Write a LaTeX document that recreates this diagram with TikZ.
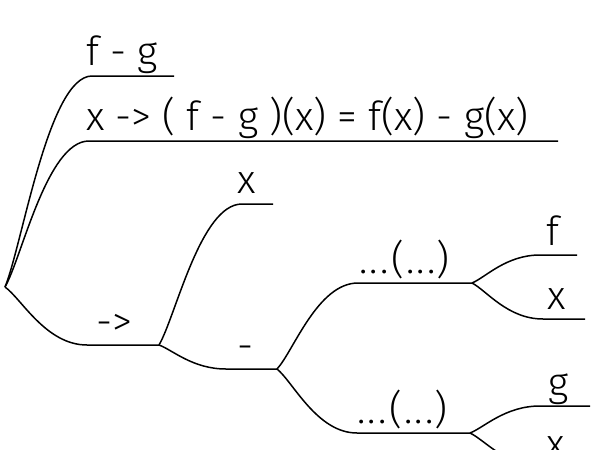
\documentclass[tikz,border=0pt]{standalone}
\usepackage{fontspec}
\setmainfont{Fira Sans Light}
\usetikzlibrary{calc}
\newcommand{\dotsapp}{.\kern2.5pt.\kern2.5pt.\kern2pt(\kern2pt.\kern2.5pt.\kern2.5pt.\kern1pt)}
\begin{document}
\begin{tikzpicture}[x=1pt,y=-1pt,
  branch/.style={to path={.. controls ($(\tikztostart)!0.2!(\tikztotarget)$) and ($(\tikztotarget)!0.5!(\tikztotarget -| \tikztostart)$) .. (\tikztotarget)}},
  edge/.style={line width=1.5pt},
  lbl/.style={anchor=base west, inner sep=0pt, font=\fontsize{40}{40}\selectfont}]
\useasboundingbox (0,0) rectangle (592,450);
\clip (0,0) rectangle (592,450);
% junction points
\coordinate (root) at (5,287);
\coordinate (fgL) at (92,76);   \coordinate (fgR) at (174,76);
\coordinate (foL) at (89,141);  \coordinate (foR) at (558,141);
\coordinate (arL) at (87,345);  \coordinate (arR) at (159,345);
\coordinate (x1L) at (242,204); \coordinate (x1R) at (273,204);
\coordinate (miL) at (226,369); \coordinate (miR) at (277,369);
\coordinate (a1L) at (358,283); \coordinate (a1R) at (472,283);
\coordinate (fL) at (540,255);  \coordinate (fR) at (577,255);
\coordinate (x2L) at (543,319); \coordinate (x2R) at (585,319);
\coordinate (a2L) at (357,433); \coordinate (a2R) at (470,433);
\coordinate (gL) at (540,406);  \coordinate (gR) at (590,406);
\coordinate (x3L) at (543,467); \coordinate (x3R) at (590,467);
% branches
\draw[edge] (root) to[branch] (fgL) -- (fgR);
\draw[edge] (root) to[branch] (foL) -- (foR);
\draw[edge] (root) to[branch] (arL) -- (arR);
\draw[edge] (arR) to[branch] (x1L) -- (x1R);
\draw[edge] (arR) to[branch] (miL) -- (miR);
\draw[edge] (miR) to[branch] (a1L) -- (a1R);
\draw[edge] (miR) to[branch] (a2L) -- (a2R);
\draw[edge] (a1R) to[branch] (fL) -- (fR);
\draw[edge] (a1R) to[branch] (x2L) -- (x2R);
\draw[edge] (a2R) to[branch] (gL) -- (gR);
\draw[edge] (a2R) to[branch] (x3L) -- (x3R);
% labels
\node[lbl] (t1) at (86,65) {f - g};
\node[lbl] (t2) at (86,130) {x -> ( f - g )(x) = f(x) - g(x)};
\node[lbl] (t3) at (237,193) {x};
\node[lbl] (t4) at (96,335) {->};
\node[lbl] (t5) at (237,359) {-};
\node[lbl] (t6) at (359,273) {\dotsapp};
\node[lbl] (t7) at (546,245) {f};
\node[lbl] (t8) at (547,309) {x};
\node[lbl] (t9) at (357,423) {\dotsapp};
\node[lbl] (t10) at (548,396) {g};
\node[lbl] (t11) at (546,457) {x};
\end{tikzpicture}
\end{document}
